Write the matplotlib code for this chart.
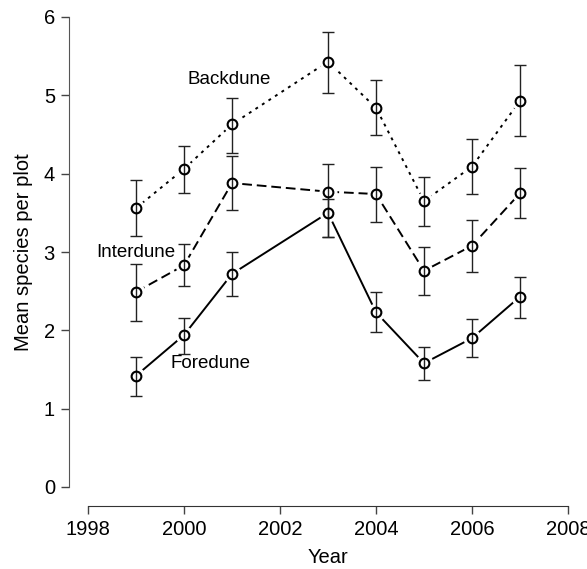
import numpy as np
import matplotlib
matplotlib.use("Agg")
import matplotlib.pyplot as plt

plt.rcParams['font.family'] = ['Liberation Sans', 'DejaVu Sans']

# ── Data ──────────────────────────────────────────────────────
years = [1999, 2000, 2001, 2003, 2004, 2005, 2006, 2007]

backdune      = [3.56, 4.06, 4.63, 5.43, 4.84, 3.65, 4.09, 4.93]
backdune_hi   = [3.92, 4.35, 4.97, 5.81, 5.20, 3.96, 4.44, 5.39]
backdune_lo   = [3.20, 3.75, 4.26, 5.03, 4.49, 3.33, 3.74, 4.48]

interdune     = [2.49, 2.83, 3.88, 3.77, 3.74, 2.76, 3.08, 3.75]
interdune_hi  = [2.85, 3.10, 4.23, 4.12, 4.09, 3.06, 3.41, 4.07]
interdune_lo  = [2.12, 2.57, 3.54, 3.19, 3.38, 2.45, 2.74, 3.43]

foredune      = [1.42, 1.94, 2.72, 3.50, 2.23, 1.58, 1.90, 2.43]
foredune_hi   = [1.66, 2.16, 3.00, 3.68, 2.49, 1.79, 2.14, 2.68]
foredune_lo   = [1.16, 1.70, 2.44, 3.19, 1.98, 1.37, 1.66, 2.16]

xticks = [1998, 2000, 2002, 2004, 2006, 2008]
yticks = [0, 1, 2, 3, 4, 5, 6]

series = [
    ("Backdune", backdune, backdune_lo, backdune_hi, (0, (1.5, 2.5)), (2000.95, 5.2)),
    ("Interdune", interdune, interdune_lo, interdune_hi, (0, (5, 2.5)), (1999.0, 2.99)),
    ("Foredune", foredune, foredune_lo, foredune_hi, "-", (2000.55, 1.58)),
]

fig = plt.figure(figsize=(5.87, 5.69), dpi=100)
W, H = 587, 569
ax = fig.add_axes([68.8 / W, 63.2 / H, 518.4 / W, 507.6 / H])
ax.set_xlim(1997.6, 2008.4)
ax.set_ylim(-0.24, 6.24)

for name, vals, lo, hi, ls, (tx, ty) in series:
    y = np.array(vals)
    ax.plot(years, y, color='black', lw=1.4, linestyle=ls, zorder=1)
    # white halo -> gap between line and point (R type="b")
    ax.plot(years, y, 'o', ms=12, mfc='white', mec='white', zorder=2)
    yerr = [y - np.array(lo), np.array(hi) - y]
    ax.errorbar(years, y, yerr=yerr, fmt='none', ecolor='#222222',
                elinewidth=1.0, capsize=4, capthick=1.0, zorder=3)
    ax.plot(years, y, 'o', ms=7, mfc='none', mec='black', mew=1.5, zorder=4)
    ax.text(tx, ty, name, fontsize=13.5, ha='center', va='center')

for s in ['top', 'right']:
    ax.spines[s].set_visible(False)
ax.spines['left'].set_bounds(0, 6)
ax.spines['bottom'].set_bounds(1998, 2008)
ax.spines['left'].set_color('#555555')
ax.spines['bottom'].set_color('#333333')

ax.set_xticks(xticks)
ax.set_yticks(yticks)
ax.tick_params(axis='both', length=6, width=1.0, labelsize=14.5, color='#444444', pad=4)
ax.set_xlabel('Year', fontsize=14.5, labelpad=7)
ax.set_ylabel('Mean species per plot', fontsize=14.5, labelpad=8)

fig.savefig('out.png', dpi=100)
